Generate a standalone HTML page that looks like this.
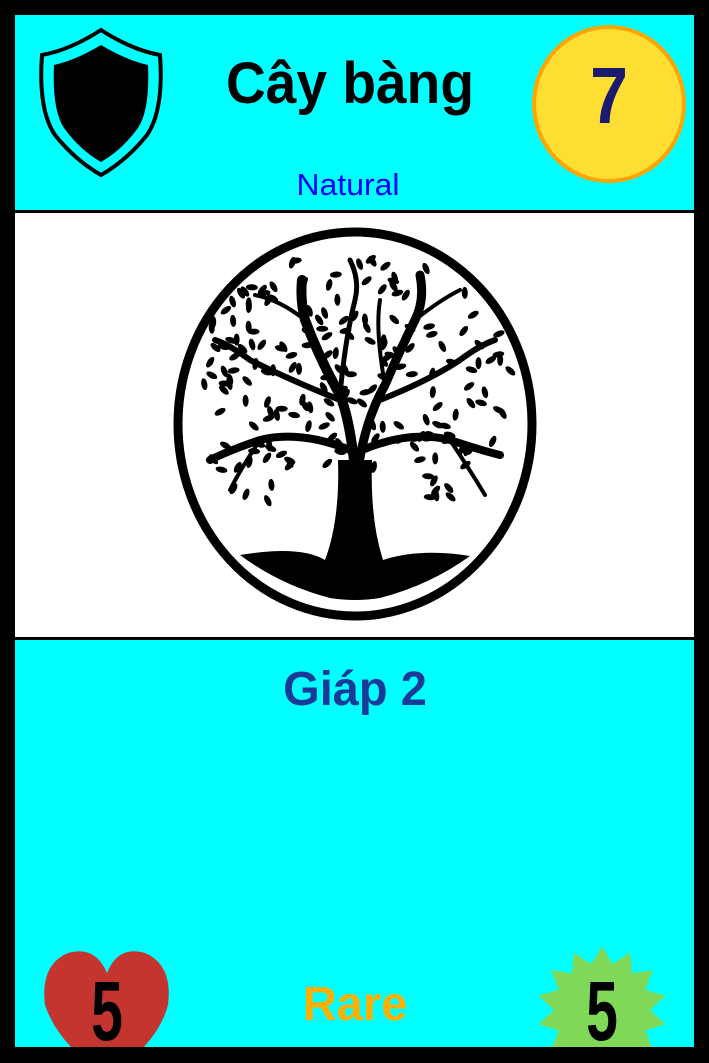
<!DOCTYPE html>
<html><head><meta charset="utf-8"><style>
html,body{margin:0;padding:0;background:#000;width:709px;height:1063px;overflow:hidden;font-family:"Liberation Sans","Noto Sans CJK SC",sans-serif}
.abs{position:absolute}
.t{position:absolute;text-align:center;font-weight:bold;white-space:nowrap}
</style></head><body>
<div class="abs" style="left:0;top:0;width:709px;height:1063px;background:#000">
 <div class="abs" style="left:15px;top:15px;width:679px;height:195px;background:#00ffff"></div>
 <div class="abs" style="left:15px;top:213px;width:679px;height:424px;background:#fff"></div>
 <div class="abs" style="left:15px;top:640px;width:679px;height:407px;background:#00ffff"></div>

 <svg class="abs" style="left:0;top:0" width="709" height="1063">
  <path d="M101 30 Q70 50 42 55 Q38 110 55 135 Q75 160 101 175 Q127 160 147 135 Q164 110 160 55 Q132 50 101 30Z" fill="none" stroke="#000" stroke-width="4"/>
  <path d="M101 45 Q76 60 54 65 Q52 110 64 128 Q80 150 101 162 Q122 150 138 128 Q150 110 148 65 Q126 60 101 45Z" fill="#000"/>
 </svg>

 <svg class="abs" style="left:530px;top:25px" width="160" height="160">
  <ellipse cx="79" cy="79" rx="75" ry="77" fill="#ffde33" stroke="#ffa500" stroke-width="4"/>
 </svg>
 <div class="t" style="left:530px;top:56px;width:158px;font-size:80px;line-height:1;color:#1a1a6e;transform:scaleX(0.85)">7</div>

 <div class="t" style="left:150px;top:55px;width:400px;font-size:58px;line-height:1;color:#000;transform:scaleX(0.95)">Cây bàng</div>
 <div class="t" style="left:248px;top:169px;width:200px;font-size:31px;line-height:1;font-weight:normal;color:#0000ff;transform:scaleX(1.03)">Natural</div>

 <svg class="abs" id="tree" style="left:0;top:0" width="709" height="1063">
  <ellipse cx="355" cy="424" rx="177" ry="192" fill="none" stroke="#000" stroke-width="9"/>
  <path d="M240 555 Q300 545 325 560 Q340 520 338 460 L372 460 Q370 520 383 560 Q420 548 470 556 Q430 585 380 598 Q355 602 330 598 Q280 585 240 555Z" fill="#000"/>
  <g fill="none" stroke="#000" stroke-linecap="round">
   <path d="M355 470 Q350 420 340 395 Q320 360 305 320 Q300 300 302 280" stroke-width="10"/>
   <path d="M358 470 Q365 420 385 385 Q400 350 415 320 Q425 300 420 275" stroke-width="9"/>
   <path d="M350 450 Q300 430 260 440 Q230 450 210 460" stroke-width="8"/>
   <path d="M362 450 Q410 430 450 440 Q480 450 500 455" stroke-width="8"/>
   <path d="M340 400 Q290 380 250 360 Q230 345 215 340" stroke-width="6"/>
   <path d="M380 400 Q430 380 460 360 Q480 345 495 340" stroke-width="6"/>
   <path d="M305 320 Q280 300 255 295" stroke-width="4"/>
   <path d="M415 320 Q440 300 460 290" stroke-width="4"/>
   <path d="M340 395 Q345 340 355 300 Q360 280 350 260" stroke-width="5"/>
   <path d="M385 385 Q375 330 380 300" stroke-width="4"/>
   <path d="M260 440 Q240 470 230 490" stroke-width="4"/>
   <path d="M450 440 Q470 470 485 495" stroke-width="4"/>
  </g>
  <g id="leaves" fill="#000"></g>
 </svg>

 <div class="t" style="left:205px;top:666px;width:300px;font-size:48px;line-height:1;color:#1a3a9a;transform:scaleX(0.98)">Giáp 2</div>

 <svg class="abs" style="left:0;top:0" width="709" height="1047">
  <path d="M107 973 Q95 945 68 953 Q40 965 45 1005 Q55 1035 85 1060 L130 1060 Q160 1035 168 1005 Q173 965 145 953 Q118 945 107 973Z" fill="#c4352f"/>
  <polygon id="star" fill="#80d858"/>
 </svg>
 <div class="t" style="left:57px;top:969px;width:100px;font-size:84px;line-height:1;color:#000;transform:scaleX(0.68)">5</div>
 <div class="t" style="left:230px;top:981px;width:250px;font-size:48px;line-height:1;color:#ffb000;transform:scaleX(0.98)">Rare</div>
 <div class="t" style="left:552px;top:969px;width:100px;font-size:84px;line-height:1;color:#000;transform:scaleX(0.68)">5</div>
</div>
<script>
var st=document.getElementById('star'),pts=[],cx=602,cy=1010,n=14;
for(var i=0;i<n*2;i++){var a=-Math.PI/2+i*Math.PI/n,r=i%2?48:65;pts.push((cx+r*Math.cos(a)).toFixed(1)+','+(cy+r*Math.sin(a)*0.98).toFixed(1));}
st.setAttribute('points',pts.join(' '));
var g=document.getElementById('leaves'),s=7;
function rnd(){s=(s*9301+49297)%233280;return s/233280;}
for(var k=0;k<260;k++){
 var x=195+rnd()*320,y=255+rnd()*260;
 var dx=(x-355)/165,dy=(y-395)/145;
 if(dx*dx+dy*dy>1)continue;
 if(y>470&&Math.abs(x-355)<70)continue;
 var e=document.createElementNS('http://www.w3.org/2000/svg','ellipse');
 
 
 e.setAttribute('cx',x.toFixed(1));e.setAttribute('cy',y.toFixed(1));
 e.setAttribute('rx','6');e.setAttribute('ry','3');
 e.setAttribute('transform','rotate('+Math.round(rnd()*180)+' '+x.toFixed(1)+' '+y.toFixed(1)+')');
 g.appendChild(e);
}
</script>
</body></html>
